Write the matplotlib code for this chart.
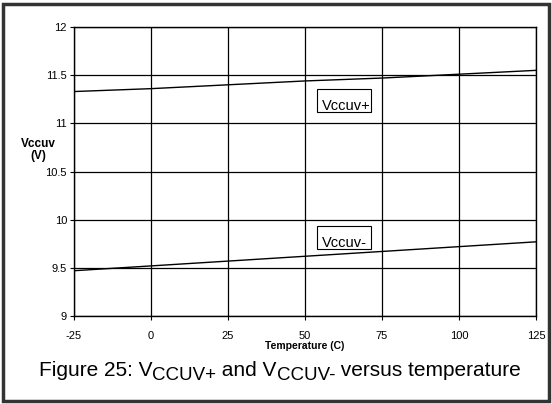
import matplotlib
matplotlib.use("Agg")
import matplotlib.pyplot as plt
from matplotlib.patches import Rectangle

plt.rcParams['font.family'] = ['Liberation Sans', 'DejaVu Sans']
plt.rcParams['axes.unicode_minus'] = False

# temperature (C)
temps = [-25, 0, 25, 50, 75, 100, 125]
# undervoltage thresholds
vccuv_plus = [11.33, 11.36, 11.40, 11.44, 11.47, 11.51, 11.55]
vccuv_minus = [9.47, 9.52, 9.57, 9.62, 9.67, 9.72, 9.77]

x_ticks = [-25, 0, 25, 50, 75, 100, 125]
y_ticks = [9, 9.5, 10, 10.5, 11, 11.5, 12]
y_labels = ['9', '9.5', '10', '10.5', '11', '11.5', '12']

W, H = 552, 404
fig = plt.figure(figsize=(W / 100, H / 100), dpi=100)
ax = fig.add_axes([74 / W, 1 - 316 / H, 462 / W, 289 / H])

ax.plot(temps, vccuv_plus, color='black', lw=1.0)
ax.plot(temps, vccuv_minus, color='black', lw=1.0)

ax.set_xlim(-25, 125)
ax.set_ylim(9, 12)
ax.set_xticks(x_ticks)
ax.set_yticks(y_ticks)
ax.set_yticklabels(y_labels)
ax.grid(True, color='black', lw=0.9)
ax.tick_params(labelsize=8, length=3, width=0.8, direction='out')
ax.tick_params(axis='x', pad=8)
ax.tick_params(axis='y', pad=2)
for s in ax.spines.values():
    s.set_linewidth(1.0)

ax.set_xlabel('Temperature (C)', fontsize=7.5, fontweight='bold', labelpad=0)
fig.text(38.5 / W, 1 - 150 / H, 'Vccuv\n(V)', fontsize=8.5, fontweight='bold',
         ha='center', va='center', linespacing=1.0)

# boxed curve labels
for name, top in [('Vccuv+', 11.356), ('Vccuv-', 9.934)]:
    ax.add_patch(Rectangle((53.9, top - 0.238), 17.5, 0.238, fill=False,
                           ec='black', lw=0.8, zorder=3))
    ax.text(55.4, top - 0.215, name, fontsize=10.5, ha='left', va='baseline',
            zorder=4)

# caption, laid out piece by piece so the subscripts sit lower
pieces = [('Figure 25: V', 15, 0), ('CCUV+', 13.5, 4), (' and V', 15, 0),
          ('CCUV-', 13.5, 4), (' versus temperature', 15, 0)]
base_y = 376
cap = [fig.text(0, 0, txt, fontsize=fs, ha='left', va='baseline')
       for txt, fs, dy in pieces]
fig.canvas.draw()
r = fig.canvas.get_renderer()
widths = [t.get_window_extent(r).width for t in cap]
x = (W - sum(widths)) / 2 + 4
for t, w, (txt, fs, dy) in zip(cap, widths, pieces):
    t.set_position((x / W, 1 - (base_y + dy) / H))
    x += w

fig.patches.append(Rectangle((3 / W, 3 / H), 546 / W, 397 / H,
                             transform=fig.transFigure, fill=False,
                             ec='#333333', lw=2.5))

fig.savefig('out.png', dpi=100)
